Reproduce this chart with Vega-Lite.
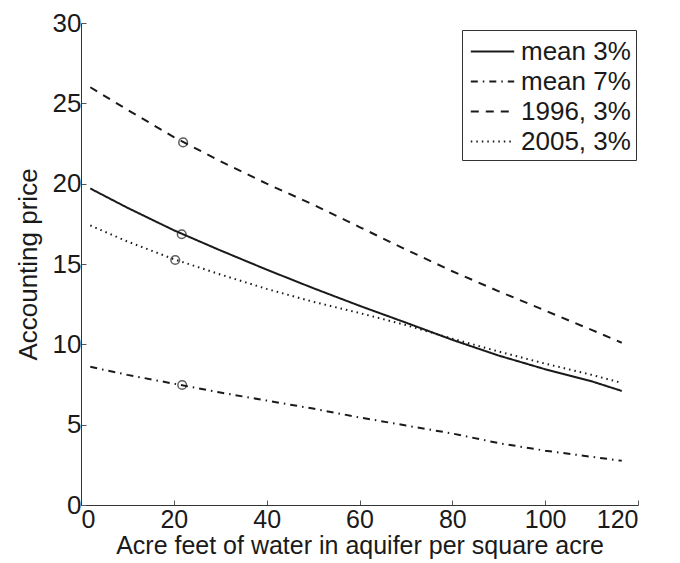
{
  "$schema": "https://vega.github.io/schema/vega-lite/v6.json",
  "width": 557,
  "height": 482,
  "autosize": "none",
  "padding": {"left": 81, "top": 23, "right": 42, "bottom": 58},
  "background": "white",
  "config": {
    "view": {"stroke": null},
    "font": "Liberation Sans",
    "axis": {
      "grid": false,
      "domainColor": "#333333",
      "domainWidth": 1,
      "tickColor": "#555555",
      "tickSize": -5,
      "labelFont": "Liberation Sans",
      "labelFontSize": 26,
      "labelColor": "#1a1a1a",
      "titleFont": "Liberation Sans",
      "titleFontSize": 26,
      "titleFontWeight": "normal",
      "titleColor": "#1a1a1a"
    }
  },
  "datasets": {
    "curves": [
      {"series": "mean 3%", "x": 2, "y": 19.7},
      {"series": "mean 3%", "x": 10, "y": 18.5},
      {"series": "mean 3%", "x": 20, "y": 17.1},
      {"series": "mean 3%", "x": 30, "y": 15.85},
      {"series": "mean 3%", "x": 40, "y": 14.65},
      {"series": "mean 3%", "x": 50, "y": 13.5},
      {"series": "mean 3%", "x": 60, "y": 12.4},
      {"series": "mean 3%", "x": 70, "y": 11.35},
      {"series": "mean 3%", "x": 80, "y": 10.28},
      {"series": "mean 3%", "x": 90, "y": 9.3},
      {"series": "mean 3%", "x": 100, "y": 8.45},
      {"series": "mean 3%", "x": 110, "y": 7.7},
      {"series": "mean 3%", "x": 116.5, "y": 7.1},
      {"series": "mean 7%", "x": 2, "y": 8.6},
      {"series": "mean 7%", "x": 10, "y": 8.1},
      {"series": "mean 7%", "x": 20, "y": 7.55},
      {"series": "mean 7%", "x": 30, "y": 7.0},
      {"series": "mean 7%", "x": 40, "y": 6.5},
      {"series": "mean 7%", "x": 50, "y": 6.0},
      {"series": "mean 7%", "x": 60, "y": 5.45},
      {"series": "mean 7%", "x": 70, "y": 4.95},
      {"series": "mean 7%", "x": 80, "y": 4.45},
      {"series": "mean 7%", "x": 90, "y": 3.85},
      {"series": "mean 7%", "x": 100, "y": 3.38},
      {"series": "mean 7%", "x": 110, "y": 3.0},
      {"series": "mean 7%", "x": 116.5, "y": 2.75},
      {"series": "1996, 3%", "x": 2, "y": 26.0},
      {"series": "1996, 3%", "x": 10, "y": 24.6},
      {"series": "1996, 3%", "x": 20, "y": 22.9},
      {"series": "1996, 3%", "x": 30, "y": 21.4},
      {"series": "1996, 3%", "x": 40, "y": 20.0},
      {"series": "1996, 3%", "x": 50, "y": 18.7},
      {"series": "1996, 3%", "x": 60, "y": 17.3},
      {"series": "1996, 3%", "x": 70, "y": 15.9},
      {"series": "1996, 3%", "x": 80, "y": 14.55},
      {"series": "1996, 3%", "x": 90, "y": 13.3},
      {"series": "1996, 3%", "x": 100, "y": 12.1},
      {"series": "1996, 3%", "x": 110, "y": 10.9},
      {"series": "1996, 3%", "x": 116.5, "y": 10.1},
      {"series": "2005, 3%", "x": 2, "y": 17.4},
      {"series": "2005, 3%", "x": 10, "y": 16.4},
      {"series": "2005, 3%", "x": 20, "y": 15.3},
      {"series": "2005, 3%", "x": 30, "y": 14.35},
      {"series": "2005, 3%", "x": 40, "y": 13.45},
      {"series": "2005, 3%", "x": 50, "y": 12.65},
      {"series": "2005, 3%", "x": 60, "y": 11.95},
      {"series": "2005, 3%", "x": 70, "y": 11.2},
      {"series": "2005, 3%", "x": 80, "y": 10.35},
      {"series": "2005, 3%", "x": 90, "y": 9.55},
      {"series": "2005, 3%", "x": 100, "y": 8.8},
      {"series": "2005, 3%", "x": 110, "y": 8.1},
      {"series": "2005, 3%", "x": 116.5, "y": 7.6}
    ],
    "markers": [
      {"series": "mean 3%", "x": 21.7, "y": 16.85},
      {"series": "mean 7%", "x": 21.8, "y": 7.47},
      {"series": "1996, 3%", "x": 22.0, "y": 22.57},
      {"series": "2005, 3%", "x": 20.3, "y": 15.25}
    ]
  },
  "layer": [
    {
      "data": {"name": "curves"},
      "mark": {"type": "line", "color": "#1a1a1a", "strokeWidth": 2},
      "encoding": {
        "x": {
          "field": "x", "type": "quantitative",
          "scale": {"domain": [0, 120], "nice": false},
          "axis": {"values": [0, 20, 40, 60, 80, 100, 120], "title": "Acre feet of water in aquifer per square acre", "labelPadding": 7, "labelFontSize": 25, "titlePadding": 1, "titleFontSize": 25}
        },
        "y": {
          "field": "y", "type": "quantitative",
          "scale": {"domain": [0, 30], "nice": false},
          "axis": {"values": [0, 5, 10, 15, 20, 25, 30], "title": "Accounting price", "labelPadding": 5, "titlePadding": 11}
        },
        "detail": {"field": "series"},
        "strokeDash": {
          "field": "series", "type": "nominal",
          "scale": {
            "domain": ["mean 3%", "mean 7%", "1996, 3%", "2005, 3%"],
            "range": [[1, 0], [7, 5, 1.5, 5], [8, 7], [1.5, 4]]
          },
          "legend": {
            "orient": "none",
            "legendX": 381,
            "legendY": 7,
            "title": null,
            "symbolType": "M-1.4,0H1.4",
            "symbolSize": 961,
            "symbolStrokeWidth": 2,
            "symbolStrokeColor": "#1a1a1a",
            "symbolFillColor": "transparent",
            "symbolOffset": 9,
            "labelFont": "Liberation Sans",
            "labelFontSize": 26,
            "labelColor": "#1a1a1a",
            "labelOffset": 12,
            "rowPadding": 0,
            "padding": 5,
            "strokeColor": "#333333",
            "fillColor": "white"
          }
        }
      }
    },
    {
      "data": {"name": "markers"},
      "mark": {"type": "point", "shape": "circle", "filled": false, "color": "#1a1a1a", "strokeWidth": 1.5, "size": 75},
      "encoding": {
        "x": {"field": "x", "type": "quantitative"},
        "y": {"field": "y", "type": "quantitative"}
      }
    }
  ]
}
